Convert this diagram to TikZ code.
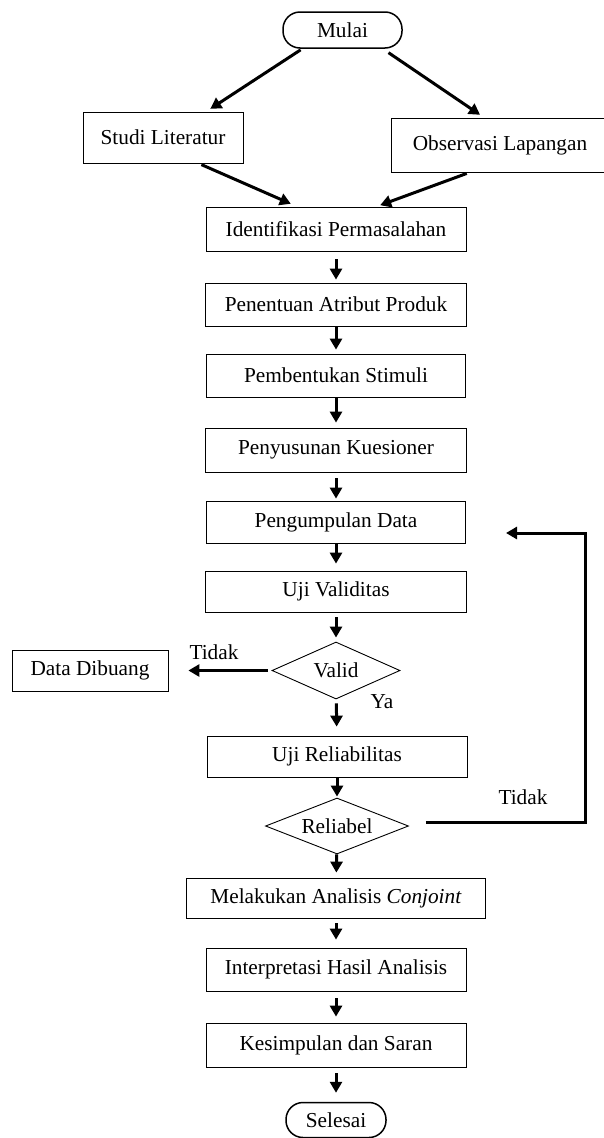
\documentclass[tikz,border=0pt]{standalone}
\usepackage{fontspec}
\setmainfont{Liberation Serif}
\usetikzlibrary{shapes.geometric,arrows.meta}

\begin{document}
\begin{tikzpicture}[x=1pt,y=-1pt,
	kotak/.style={shape=rectangle,draw=black,line width=0.8pt,inner sep=0pt,font=\fontsize{21.3}{24}\selectfont},
	terminal/.style={kotak,rounded corners=17pt,line width=1.5pt},
	keputusan/.style={shape=diamond,draw=black,line width=0.9pt,inner sep=0pt,aspect=2.4,font=\fontsize{21.3}{24}\selectfont},
	teks/.style={inner sep=0pt,font=\fontsize{21.3}{24}\selectfont},
	panah/.style={-{Triangle[length=11pt,width=12pt]},line width=3pt}]
	
	\useasboundingbox (0,0) rectangle (604,1138);
	
	\node[terminal,minimum width=119pt,minimum height=36pt] (mulai) at (342.5, 30) {Mulai};
	\node[kotak,minimum width=160pt,minimum height=51pt] (studi) at (163, 137.5) {Studi Literatur};
	\node[kotak,minimum width=218pt,minimum height=54pt] (obs) at (500, 145) {Observasi Lapangan};
	\node[kotak,minimum width=260pt,minimum height=44pt] (ident) at (336, 229) {Identifikasi Permasalahan};
	\node[kotak,minimum width=261pt,minimum height=43pt] (tentu) at (336, 304.5) {Penentuan Atribut Produk};
	\node[kotak,minimum width=259pt,minimum height=43pt] (bentuk) at (336, 375.5) {Pembentukan Stimuli};
	\node[kotak,minimum width=261pt,minimum height=44pt] (susun) at (336, 450) {Penyusunan Kuesioner};
	\node[kotak,minimum width=259pt,minimum height=42pt] (kumpul) at (336, 522) {Pengumpulan Data};
	\node[kotak,minimum width=261pt,minimum height=41pt] (validitas) at (336, 591.5) {Uji Validitas};
	\node[keputusan,minimum width=128pt,minimum height=57pt] (valid) at (336, 670.5) {Valid};
	\node[kotak,minimum width=156pt,minimum height=41pt] (buang) at (90, 670.5) {Data Dibuang};
	\node[kotak,minimum width=260pt,minimum height=41pt] (reliabilitas) at (337, 756.5) {Uji Reliabilitas};
	\node[keputusan,minimum width=143pt,minimum height=56pt] (reliabel) at (337, 826) {Reliabel};
	\node[kotak,minimum width=299pt,minimum height=40pt] (conjoint) at (336, 898) {Melakukan Analisis \textit{Conjoint}};
	\node[kotak,minimum width=260pt,minimum height=43pt] (interp) at (336, 969.5) {Interpretasi Hasil Analisis};
	\node[kotak,minimum width=260pt,minimum height=44pt] (simpul) at (336, 1045) {Kesimpulan dan Saran};
	\node[terminal,minimum width=100pt,minimum height=35pt] (selesai) at (336, 1120) {Selesai};
	
	\node[teks] (tidak1) at (214, 652) {Tidak};
	\node[teks] (ya) at (382, 702) {Ya};
	\node[teks] (tidak2) at (523, 797) {Tidak};
	
	\coordinate (sudut1) at (585, 822);
	\coordinate (balik) at (506, 533);
	
	\path[panah, shorten <=2pt, shorten >=5pt] (mulai.-155) edge (studi.31);
	\path[panah, shorten <=7pt, shorten >=5pt] (mulai.-25) edge (obs.120);
	\path[panah, shorten <=3pt, shorten >=7pt] (studi.-36) edge (ident.150);
	\path[panah, shorten <=3pt, shorten >=4pt] (obs.222) edge (ident.29);
	
	\path[panah, shorten <=8pt, shorten >=3pt] (ident) edge (tentu);
	\path[panah, shorten <=0pt, shorten >=4pt] (tentu) edge (bentuk);
	\path[panah, shorten <=1pt, shorten >=5pt] (bentuk) edge (susun);
	\path[panah, shorten <=6pt, shorten >=2pt] (susun) edge (kumpul);
	\path[panah, shorten <=1pt, shorten >=7pt] (kumpul) edge (validitas);
	\path[panah, shorten <=5pt, shorten >=4pt] (validitas) edge (valid);
	\path[panah, shorten <=4pt, shorten >=20pt] (valid) edge (buang);
	\path[panah, shorten <=4pt, shorten >=9pt] (valid) edge (reliabilitas);
	\path[panah, shorten <=0pt, shorten >=1pt] (reliabilitas) edge (reliabel);
	\path[panah, shorten <=0pt, shorten >=5pt] (reliabel) edge (conjoint);
	\path[panah, shorten <=5pt, shorten >=8pt] (conjoint) edge (interp);
	\path[panah, shorten <=7pt, shorten >=6pt] (interp) edge (simpul);
	\path[panah, shorten <=6pt, shorten >=9pt] (simpul) edge (selesai);
	
	\draw[panah, shorten <=17pt] ([yshift=4pt]reliabel.east) -- (sudut1) |- (balik);
	
\end{tikzpicture}
\end{document}
